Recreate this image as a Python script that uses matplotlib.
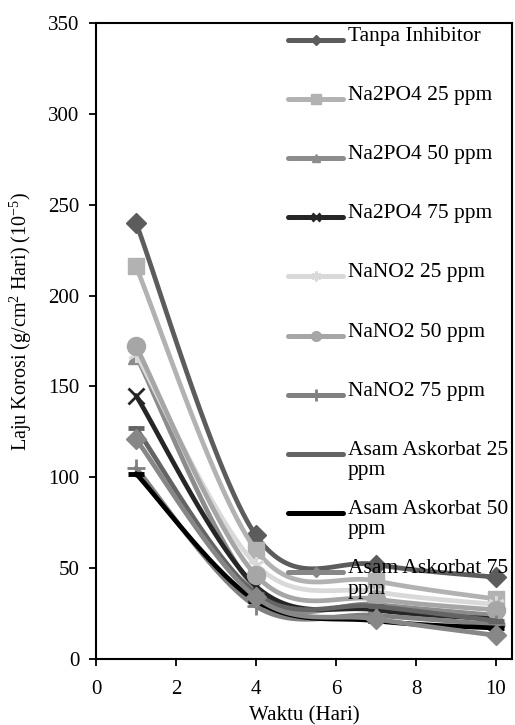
import numpy as np
import matplotlib
matplotlib.use("Agg")
import matplotlib.pyplot as plt

plt.rcParams['font.family'] = ['Liberation Serif', 'DejaVu Serif']
plt.rcParams['mathtext.fontset'] = 'custom'
plt.rcParams['mathtext.rm'] = 'Liberation Serif'
plt.rcParams['mathtext.it'] = 'Liberation Serif:italic'

days = [1, 4, 7, 10]
labels = ["Tanpa Inhibitor", "Na2PO4 25 ppm", "Na2PO4 50 ppm", "Na2PO4 75 ppm",
          "NaNO2 25 ppm", "NaNO2 50 ppm", "NaNO2 75 ppm",
          "Asam Askorbat 25\nppm", "Asam Askorbat 50\nppm", "Asam Askorbat 75\nppm"]
tanpa = [240, 68, 52, 45]
na2po4_25 = [216, 60, 43, 33]
na2po4_50 = [167, 38, 30, 24]
na2po4_75 = [145, 40, 27, 22]
nano2_25 = [168, 52, 37, 30]
nano2_50 = [172, 46, 33, 27]
nano2_75 = [105, 29, 24, 19]
askorbat_25 = [127, 36, 29, 21]
askorbat_50 = [102, 32, 21, 17]
askorbat_75 = [121, 34, 22, 13]
series = [tanpa, na2po4_25, na2po4_50, na2po4_75, nano2_25, nano2_50, nano2_75,
          askorbat_25, askorbat_50, askorbat_75]

colors = ['#5c5c5c', '#b2b2b2', '#8c8c8c', '#262626', '#d9d9d9', '#a6a6a6',
          '#808080', '#646464', '#000000', '#878787']
markers = ['D', 's', '^', 'x', (6, 2, 0), 'o', '+', '_', '_', 'D']
msizes = [10.5, 12, 11, 12, 12, 13, 13, 12, 12, 10.5]
lg_msizes = [5, 7, 6, 6, 7, 7, 8, 0, 0, 5]


def excel_smooth(x, y, n=40):
    pts = np.column_stack([np.asarray(x, float), np.asarray(y, float)])
    P = np.vstack([pts[0], pts, pts[-1]])
    out = []
    t = np.linspace(0, 1, n)[:, None]
    for i in range(len(pts) - 1):
        p0, p1, p2, p3 = P[i], P[i + 1], P[i + 2], P[i + 3]
        c1 = p1 + (p2 - p0) / 6.0
        c2 = p2 - (p3 - p1) / 6.0
        seg = ((1 - t) ** 3) * p1 + 3 * ((1 - t) ** 2) * t * c1 + 3 * (1 - t) * t ** 2 * c2 + t ** 3 * p2
        out.append(seg if i == 0 else seg[1:])
    s = np.vstack(out)
    return s[:, 0], s[:, 1]


fig = plt.figure(figsize=(5.15, 7.25), dpi=100)
ax = fig.add_axes([96 / 515, 1 - 659 / 725, 416 / 515, 636 / 725])

for k, (vals, c, m, ms) in enumerate(zip(series, colors, markers, msizes)):
    sx, sy = excel_smooth(days, vals)
    ax.plot(sx, sy, color=c, lw=3.4, solid_capstyle='round', zorder=2 + k * 0.1)
    mew = 2 if m in ('x', '+', (6, 2, 0)) else (3.5 if m == '_' else 1)
    ax.plot(days, vals, linestyle='none', marker=m, markersize=ms, color=c,
            markeredgecolor=c, markeredgewidth=mew, zorder=2.05 + k * 0.1)

ax.set_xlim(0, 10.4)
ax.set_ylim(0, 350)
ax.set_xticks([0, 2, 4, 6, 8, 10])
ax.set_yticks(np.arange(0, 351, 50))
ax.tick_params(axis='both', direction='out', length=5, width=1.3, labelsize=15, colors='black')
ax.tick_params(axis='y', pad=7)
ax.tick_params(axis='x', pad=10)
for sp in ax.spines.values():
    sp.set_linewidth(1.5)
    sp.set_color('black')

ax.set_xlabel("Waktu (Hari)", fontsize=15, labelpad=5)
ax.set_ylabel(r"Laju Korosi (g/cm$^{2}$ Hari) (10$^{-5}$)", fontsize=14.5)
ax.yaxis.set_label_coords(-0.15, 0.53)

# manual legend (Excel style, handle aligned to first text line)
for i, (lab, c, m, lms) in enumerate(zip(labels, colors, markers, lg_msizes)):
    ypx = 40 + 59.1 * i
    yf = 1 - ypx / 725
    fig.lines.append(plt.Line2D([288 / 515, 343 / 515], [yf, yf], transform=fig.transFigure,
                                color=c, lw=3.6, solid_capstyle='round', zorder=10))
    if lms > 0:
        mew = 2 if m in ('x', '+', (6, 2, 0)) else 1
        fig.lines.append(plt.Line2D([315.5 / 515], [yf], transform=fig.transFigure,
                                    marker=m, markersize=lms, color=c, markeredgecolor=c,
                                    markeredgewidth=mew, linestyle='none', zorder=10))
    fig.text(348 / 515, yf + 13 / 725, lab, fontsize=15.5, va='top', ha='left',
             linespacing=1.12, zorder=11, transform=fig.transFigure)

fig.savefig("out.png", dpi=100)
